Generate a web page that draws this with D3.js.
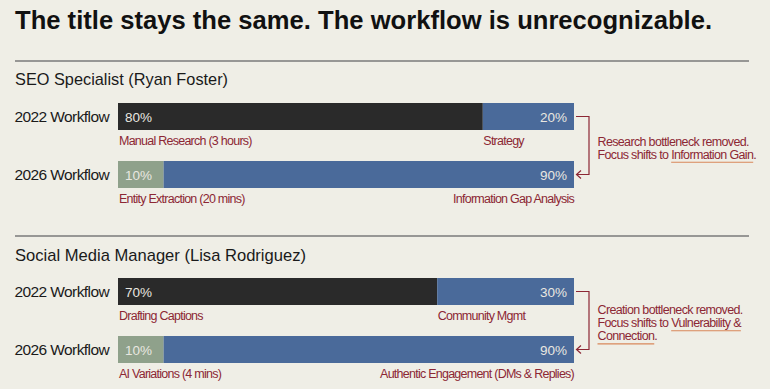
<!DOCTYPE html>
<html>
<head>
<meta charset="utf-8">
<script src="https://cdn.jsdelivr.net/npm/d3@7"></script>
<style>
  html, body { margin: 0; padding: 0; background: #efeee6; }
  svg { display: block; font-family: "Liberation Sans", Arial, sans-serif; }
</style>
</head>
<body>
<div id="chart"></div>
<script>
// chart data
const roles = ["SEO Specialist (Ryan Foster)", "Social Media Manager (Lisa Rodriguez)"];
const years = ["2022 Workflow", "2026 Workflow"];
const firstShare = [[80, 10], [70, 10]];
const secondShare = [[20, 90], [30, 90]];
const firstTask = [
  ["Manual Research (3 hours)", "Entity Extraction (20 mins)"],
  ["Drafting Captions", "AI Variations (4 mins)"]
];
const secondTask = [
  ["Strategy", "Information Gap Analysis"],
  ["Community Mgmt", "Authentic Engagement (DMs & Replies)"]
];
// note lines: [text, underlined]
const notes = [
  [[["Research bottleneck removed.", false]],
   [["Focus shifts to ", false], ["Information Gain", true], [".", false]]],
  [[["Creation bottleneck removed.", false]],
   [["Focus shifts to ", false], ["Vulnerability &", true]],
   [["Connection", true], [".", false]]]
];

const W = 770, H = 389;
const dark = "#2a2a2a", blue = "#4a6a9a", sage = "#8fa18b", red = "#8c2734", accent = "#d9875a";

const svg = d3.select("#chart").append("svg").attr("width", W).attr("height", H);

// stretch/squeeze a text to a target width
function fit(sel, w) {
  if (sel.node().getComputedTextLength() > 0)
    sel.attr("textLength", w).attr("lengthAdjust", "spacingAndGlyphs");
  return sel;
}

fit(svg.append("text")
  .attr("x", 15).attr("y", 29)
  .attr("font-size", 25).attr("font-weight", "bold").attr("fill", "#111")
  .text("The title stays the same. The workflow is unrecognizable."), 697);

const x = d3.scaleLinear().domain([0, 100]).range([118, 574]);
const sectionY = d3.scaleLinear().domain([0, 1]).range([61, 236]);
const rowY = d3.scalePoint().domain(years).range([42, 100]);
const bh = 27;

roles.forEach((role, i) => {
  const g = svg.append("g").attr("transform", `translate(0,${sectionY(i)})`);

  g.append("line").attr("x1", 15).attr("x2", 749).attr("y1", 0).attr("y2", 0)
    .attr("stroke", "#7a7a7a").attr("stroke-width", 1.4);

  const tt = g.append("text").attr("x", 15).attr("y", i === 0 ? 24 : 25)
    .attr("font-size", 17).attr("fill", "#1a1a1a").text(role);
  fit(tt, i === 0 ? 213 : 291);

  years.forEach((yr, j) => {
    const y0 = rowY(yr);
    const a = firstShare[i][j], b = secondShare[i][j];
    const row = g.append("g");

    row.append("text").attr("x", 109).attr("y", y0 + bh / 2 + 5.5)
      .attr("text-anchor", "end").attr("font-size", 15.5).attr("fill", "#1a1a1a")
      .attr("letter-spacing", -0.6).text(yr);

    row.append("rect").attr("x", x(0)).attr("y", y0)
      .attr("width", x(a) - x(0)).attr("height", bh)
      .attr("fill", j === 0 ? dark : sage);
    row.append("rect").attr("x", x(a)).attr("y", y0)
      .attr("width", x(a + b) - x(a)).attr("height", bh)
      .attr("fill", blue);

    row.append("text").attr("x", x(0) + 7).attr("y", y0 + bh / 2 + 5)
      .attr("font-size", 13.5).attr("fill", "#e9e7e0").text(a + "%");
    row.append("text").attr("x", x(a + b) - 7).attr("y", y0 + bh / 2 + 5)
      .attr("text-anchor", "end").attr("font-size", 13.5).attr("fill", "#e9e7e0").text(b + "%");

    row.append("text").attr("x", x(0) + 1).attr("y", y0 + bh + 15)
      .attr("font-size", 12.5).attr("fill", red).attr("letter-spacing", -0.75)
      .text(firstTask[i][j]);
    const wide = b > 50;
    row.append("text").attr("x", wide ? x(a + b) : x(a) + 0.5).attr("y", y0 + bh + 15)
      .attr("text-anchor", wide ? "end" : "start")
      .attr("font-size", 12.5).attr("fill", red).attr("letter-spacing", -0.75)
      .text(secondTask[i][j]);
  });

  // bracket arrow from 2022 bar to 2026 bar
  const ya = rowY(years[0]) + bh / 2, yb = rowY(years[1]) + bh / 2;
  const xr = x(100), xb = xr + 15;
  g.append("path")
    .attr("d", `M${xr + 2},${ya}H${xb}V${yb}H${xr + 3}`)
    .attr("fill", "none").attr("stroke", red).attr("stroke-width", 1.2);
  g.append("path")
    .attr("d", `M${xr + 7},${yb - 4}L${xr + 2.5},${yb}L${xr + 7},${yb + 4}`)
    .attr("fill", "none").attr("stroke", red).attr("stroke-width", 1.2);

  // note text
  const nx = xb + 8.5;
  const ny0 = (ya + yb) / 2 - (notes[i].length - 1) * 13 / 2 + 6.5;
  notes[i].forEach((line, k) => {
    const ly = ny0 + k * 13.2;
    const t = g.append("text").attr("x", nx).attr("y", ly)
      .attr("font-size", 12.5).attr("fill", red).attr("letter-spacing", -0.65);
    line.forEach(([s]) => t.append("tspan").text(s));
    // underline the focus words
    let cx = nx;
    t.selectAll("tspan").each(function(d, m) {
      const w = this.getComputedTextLength();
      if (line[m][1]) {
        g.append("line").attr("x1", cx).attr("x2", cx + w)
          .attr("y1", ly + 3.5).attr("y2", ly + 3.5)
          .attr("stroke", accent).attr("stroke-width", 1.1);
      }
      cx += w;
    });
  });
});
</script>
</body>
</html>
